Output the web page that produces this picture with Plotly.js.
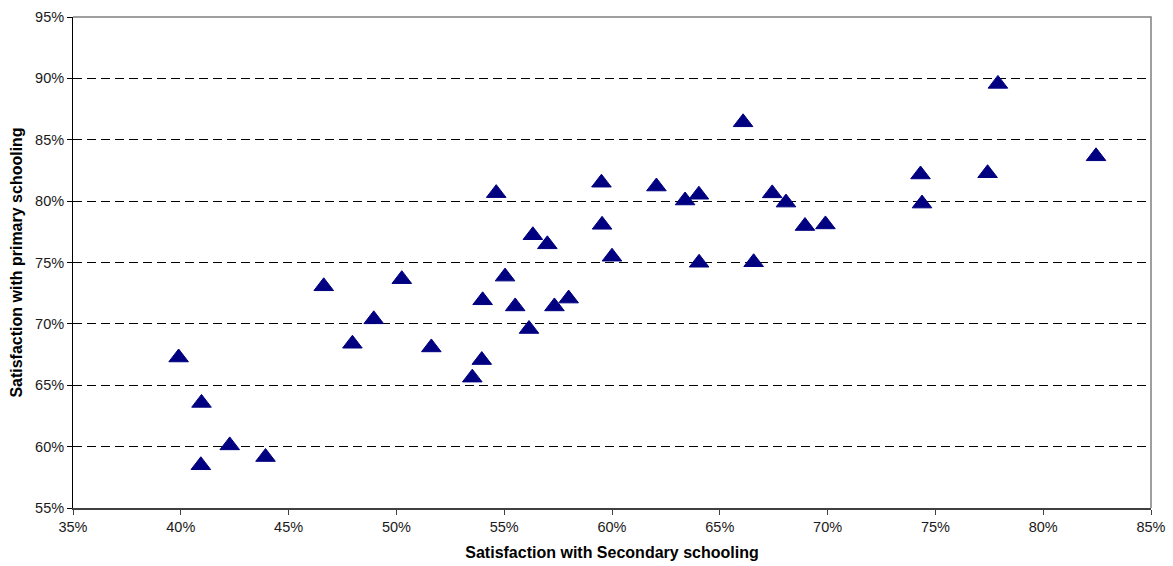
<!DOCTYPE html>
<html>
<head>
<meta charset="utf-8">
<script src="https://cdn.plot.ly/plotly-3.0.1.min.js"></script>
<style>html,body{margin:0;padding:0;background:#fff;}#chart{width:1173px;height:566px;}</style>
</head>
<body>
<div id="chart"></div>
<script>
// Satisfaction with secondary schooling (%)
var secondary = [39.9, 40.96, 40.93, 42.27, 43.93, 46.63, 47.96, 48.95, 50.25, 51.62,
  53.52, 53.96, 54.0, 54.63, 55.04, 55.51, 56.15, 56.33, 57.0, 57.33,
  57.99, 59.51, 59.54, 60.0, 62.06, 63.39, 64.03, 64.04, 66.08, 66.57,
  67.43, 68.07, 68.95, 69.9, 74.31, 74.38, 77.42, 77.9, 82.45];
// Satisfaction with primary schooling (%)
var primary = [67.26, 63.56, 58.48, 60.1, 59.15, 73.06, 68.38, 70.37, 73.64, 68.08,
  65.62, 67.05, 71.92, 80.65, 73.85, 71.42, 69.58, 77.22, 76.48, 71.42,
  72.06, 81.5, 78.07, 75.47, 81.19, 80.05, 80.52, 74.98, 86.42, 75.02,
  80.63, 79.88, 77.97, 78.1, 82.17, 79.8, 82.27, 89.55, 83.65];
var xTitle = 'Satisfaction with Secondary schooling';
var yTitle = 'Satisfaction with primary schooling';

var trace = {
  x: secondary, y: primary, type: 'scatter', mode: 'markers',
  marker: {symbol: 'triangle-up', size: 17, color: '#000080', line: {color: '#000080', width: 1}},
  hoverinfo: 'x+y'
};
var fam = '"Liberation Sans", Arial, sans-serif';
var font = {family: fam, size: 14.5, color: '#1a1a1a'};
var titleFont = {family: fam, size: 16, color: '#000', weight: 'bold'};
var layout = {
  width: 1173, height: 566,
  margin: {l: 73, r: 22, t: 17, b: 58},
  paper_bgcolor: '#ffffff', plot_bgcolor: '#ffffff',
  showlegend: false,
  font: font,
  xaxis: {
    range: [35, 85], dtick: 5, tick0: 35, ticksuffix: '%',
    showgrid: false, zeroline: false,
    showline: true, linecolor: '#404040', linewidth: 2,
    ticks: 'outside', ticklen: 5, tickcolor: '#404040', tickwidth: 1,
    tickfont: font,
    title: {text: xTitle, font: titleFont, standoff: 12},
    automargin: false
  },
  yaxis: {
    range: [55, 95], dtick: 5, tick0: 55, ticksuffix: '%',
    showgrid: true, gridcolor: '#000000', gridwidth: 1, griddash: '9px,5px',
    zeroline: false,
    showline: true, linecolor: '#000000', linewidth: 1,
    ticks: 'outside', ticklen: 5, tickcolor: '#000', tickwidth: 1,
    tickfont: font,
    title: {text: yTitle, font: titleFont, standoff: 8},
    automargin: false
  },
  shapes: [{type: 'path', xref: 'paper', yref: 'paper', path: 'M0,1 L1,1 L1,0',
    line: {color: '#808080', width: 1.5}, layer: 'below'}]
};
Plotly.newPlot('chart', [trace], layout, {displayModeBar: false, staticPlot: true});
</script>
</body>
</html>
